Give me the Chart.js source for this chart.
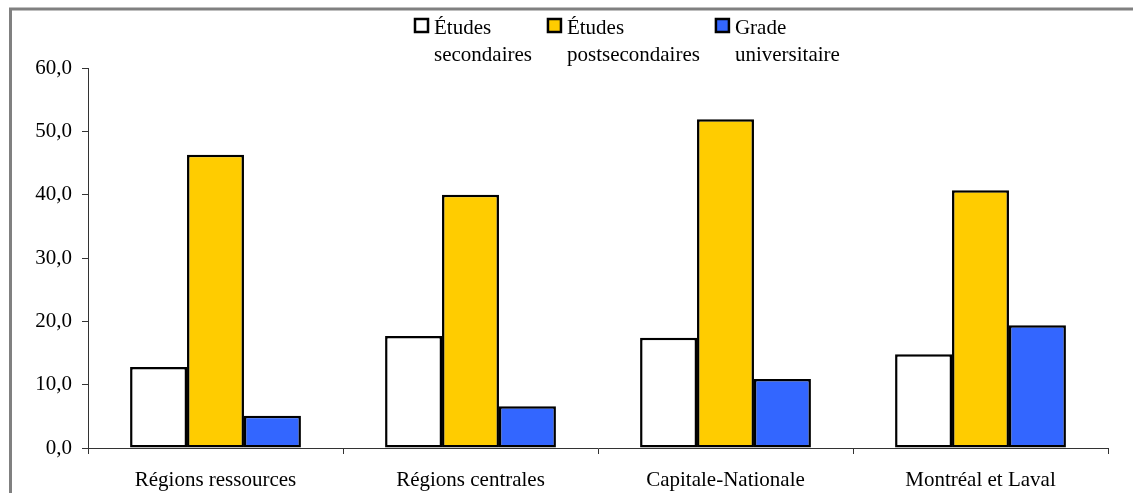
<!DOCTYPE html>
<html>
<head>
<meta charset="utf-8">
<script src="https://cdn.jsdelivr.net/npm/chart.js@4.4.0/dist/chart.umd.min.js"></script>
<style>
  body { margin: 0; background: #fff; }
  canvas { display: block; }
</style>
</head>
<body>
<canvas id="chartScolarite" width="1133" height="493"></canvas>
<script>
// --- Données ---
const categories = ['Régions ressources', 'Régions centrales', 'Capitale-Nationale', 'Montréal et Laval'];
const seriesLabels = [['Études', 'secondaires'], ['Études', 'postsecondaires'], ['Grade', 'universitaire']];
const secondaires = [12.8, 17.7, 17.4, 14.8];
const postsecondaires = [46.3, 40.0, 51.9, 40.7];
const universitaire = [5.1, 6.6, 10.9, 19.4];
const yTicks = [0, 10, 20, 30, 40, 50, 60];

const FONT = '"Liberation Serif", "Times New Roman", serif';

// cadre gris (haut + gauche) et légende sur deux lignes
const framePlugin = {
    id: 'frame',
    beforeDraw(chart) {
        const c = chart.ctx;
        c.save();
        c.fillStyle = '#fff';
        c.fillRect(0, 0, chart.width, chart.height);
        c.strokeStyle = '#808080';
        c.lineWidth = 3;
        c.beginPath();
        c.moveTo(10.5, chart.height);
        c.lineTo(10.5, 9);
        c.lineTo(chart.width, 9);
        c.stroke();
        c.restore();
    },
    afterDraw(chart) {
        const c = chart.ctx;
        c.save();
        c.font = '21px ' + FONT;
        c.textBaseline = 'alphabetic';
        c.textAlign = 'left';
        let x = 415;
        chart.data.datasets.forEach(function (ds, i) {
            const lines = seriesLabels[i];
            c.fillStyle = ds.backgroundColor;
            c.fillRect(x, 19, 13, 13);
            c.strokeStyle = '#000';
            c.lineWidth = 2.5;
            c.strokeRect(x, 19, 13, 13);
            c.fillStyle = '#000';
            let w = 0;
            lines.forEach(function (t, k) {
                c.fillText(t, x + 19, 34 + k * 27);
                w = Math.max(w, c.measureText(t).width);
            });
            x += 19 + w + 16;
        });
        c.restore();
    }
};

new Chart(document.getElementById('chartScolarite'), {
    type: 'bar',
    data: {
        labels: categories,
        datasets: [
            { label: seriesLabels[0].join(' '), data: secondaires, backgroundColor: '#ffffff' },
            { label: seriesLabels[1].join(' '), data: postsecondaires, backgroundColor: '#ffcc00' },
            { label: seriesLabels[2].join(' '), data: universitaire, backgroundColor: '#3366ff' }
        ].map(function (d) {
            return Object.assign(d, {
                borderColor: '#000',
                borderWidth: 2.5,
                borderSkipped: false,
                categoryPercentage: 0.67,
                barPercentage: 1.0
            });
        })
    },
    options: {
        responsive: false,
        animation: false,
        devicePixelRatio: 1,
        layout: { padding: { top: 68, right: 25, left: 0, bottom: 0 } },
        plugins: {
            legend: { display: false },
            tooltip: { enabled: false }
        },
        scales: {
            x: {
                offset: true,
                grid: { offset: true, drawOnChartArea: false, drawTicks: true, tickLength: 6, color: '#333' },
                border: { display: true, color: '#333', width: 1 },
                ticks: { color: '#000', font: { family: FONT, size: 21 }, padding: 14, maxRotation: 0 },
                afterFit(scale) { scale.height = 45; }
            },
            y: {
                min: 0,
                max: 60,
                afterBuildTicks(scale) { scale.ticks = yTicks.map(function (v) { return { value: v }; }); },
                grid: { drawOnChartArea: false, drawTicks: true, tickLength: 6, color: '#333' },
                border: { display: true, color: '#333', width: 1 },
                ticks: {
                    color: '#000',
                    font: { family: FONT, size: 21 },
                    padding: 10,
                    callback: function (v) { return v.toFixed(1).replace('.', ','); }
                },
                afterFit(scale) { scale.width = 88; }
            }
        }
    },
    plugins: [framePlugin]
});
</script>
</body>
</html>
